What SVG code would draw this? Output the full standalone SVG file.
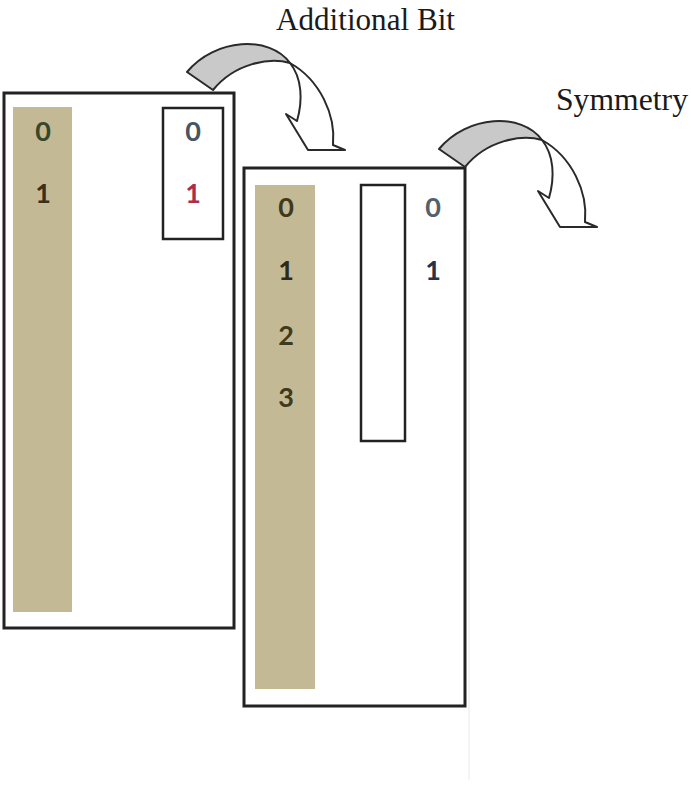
<svg xmlns="http://www.w3.org/2000/svg" width="691" height="791" viewBox="0 0 691 791">
  <style>
    .frame { fill: #ffffff; stroke: #222222; stroke-width: 3; }
    .slot { fill: #ffffff; stroke: #222222; stroke-width: 2.5; }
    .bar { fill: #c3b995; }
    .digit { font-family: Lato, "Liberation Sans", sans-serif; font-size: 27px; font-weight: bold; text-anchor: middle; }
    .caption { font-family: "Liberation Serif", "Times New Roman", serif; font-size: 31px; fill: #1a1a1a; }
    .band { fill: #c9c9c9; stroke: #2a2a2a; stroke-width: 2; stroke-linejoin: round; }
    .front { fill: #ffffff; stroke: #2a2a2a; stroke-width: 2; stroke-linejoin: round; }
  </style>
  <defs>
    <!-- curved ribbon arrow, drawn at its first position -->
    <g id="curved-arrow">
      <path class="front" d="M290,63 C320,80 336,115 333,145 L345,150 L308,150 L286,114 L297,121 C303,100 302,78 290,63 Z"/>
      <path class="band" d="M187,72 C215,38 270,35 290,63 C270,57 235,63 213,90 Z"/>
    </g>
  </defs>

  <rect width="691" height="791" fill="#ffffff"/>
  <line x1="469" y1="230" x2="469" y2="780" stroke="#f0f0f0" stroke-width="1.5"/>

  <g id="table-1bit">
    <rect class="frame" x="4" y="93" width="230" height="535"/>
    <rect class="bar" x="13" y="107" width="59" height="505"/>
    <rect class="slot" x="163" y="108" width="60" height="131"/>
    <text class="digit" x="43" y="141" fill="#3a4628">0</text>
    <text class="digit" x="43" y="203" fill="#3a2e1c">1</text>
    <text class="digit" x="193" y="141" fill="#4a5560">0</text>
    <text class="digit" x="193" y="203" fill="#a8304e">1</text>
  </g>

  <g id="table-2bit">
    <rect class="frame" x="244" y="168" width="221" height="538"/>
    <rect class="bar" x="255" y="185" width="60" height="504"/>
    <rect class="slot" x="361" y="185" width="44" height="256"/>
    <text class="digit" x="286" y="217" fill="#3d3a20">0</text>
    <text class="digit" x="286" y="280" fill="#2e2a18">1</text>
    <text class="digit" x="286" y="345" fill="#3d3a20">2</text>
    <text class="digit" x="286" y="407" fill="#3d3a20">3</text>
    <text class="digit" x="433" y="217" fill="#55606c">0</text>
    <text class="digit" x="433" y="280" fill="#2a3048">1</text>
  </g>

  <g id="connectors">
    <g id="arrow-additional-bit">
      <use href="#curved-arrow"/>
    </g>
    <g id="arrow-symmetry">
      <use href="#curved-arrow" transform="translate(252,77)"/>
    </g>
  </g>

  <g id="labels">
    <text class="caption" x="276" y="30" textLength="179" lengthAdjust="spacingAndGlyphs">Additional Bit</text>
    <text class="caption" x="556" y="110" textLength="132" lengthAdjust="spacingAndGlyphs">Symmetry</text>
  </g>
</svg>
